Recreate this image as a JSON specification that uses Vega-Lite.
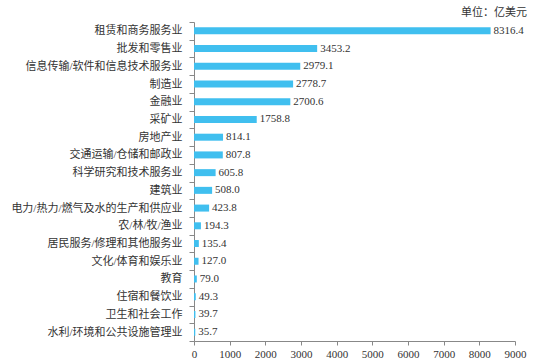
{
  "$schema": "https://vega.github.io/schema/vega-lite/v6.json",
  "autosize": "none",
  "width": 321,
  "height": 319,
  "padding": {"left": 194, "top": 22, "right": 19, "bottom": 20},
  "background": "white",
  "title": {
    "text": "单位：亿美元",
    "anchor": "end",
    "orient": "top",
    "frame": "group",
    "font": "Liberation Serif, Noto Sans CJK SC",
    "fontSize": 11,
    "fontWeight": "normal",
    "color": "#333333",
    "dx": 12,
    "dy": 7,
    "offset": 5
  },
  "data": {
    "values": [
      {"industry": "租赁和商务服务业", "value": 8316.4},
      {"industry": "批发和零售业", "value": 3453.2},
      {"industry": "信息传输/软件和信息技术服务业", "value": 2979.1},
      {"industry": "制造业", "value": 2778.7},
      {"industry": "金融业", "value": 2700.6},
      {"industry": "采矿业", "value": 1758.8},
      {"industry": "房地产业", "value": 814.1},
      {"industry": "交通运输/仓储和邮政业", "value": 807.8},
      {"industry": "科学研究和技术服务业", "value": 605.8},
      {"industry": "建筑业", "value": 508.0},
      {"industry": "电力/热力/燃气及水的生产和供应业", "value": 423.8},
      {"industry": "农/林/牧/渔业", "value": 194.3},
      {"industry": "居民服务/修理和其他服务业", "value": 135.4},
      {"industry": "文化/体育和娱乐业", "value": 127.0},
      {"industry": "教育", "value": 79.0},
      {"industry": "住宿和餐饮业", "value": 49.3},
      {"industry": "卫生和社会工作", "value": 39.7},
      {"industry": "水利/环境和公共设施管理业", "value": 35.7}
    ]
  },
  "encoding": {
    "y": {
      "field": "industry",
      "type": "nominal",
      "sort": null,
      "scale": {"paddingInner": 0, "paddingOuter": 0},
      "axis": {
        "title": null,
        "tickBand": "extent",
        "domainColor": "#888888",
        "tickColor": "#888888",
        "tickSize": 5,
        "labelPadding": 7,
        "labelFont": "Liberation Serif, Noto Sans CJK SC",
        "labelFontSize": 11,
        "labelColor": "#333333",
        "labelLimit": 300
      }
    },
    "x": {
      "field": "value",
      "type": "quantitative",
      "scale": {"domain": [0, 9000], "nice": false},
      "axis": {
        "title": null,
        "values": [0, 1000, 2000, 3000, 4000, 5000, 6000, 7000, 8000, 9000],
        "format": "d",
        "grid": false,
        "labelFlush": false,
        "labelOverlap": false,
        "domainColor": "#888888",
        "tickColor": "#888888",
        "tickSize": 4,
        "labelPadding": 3,
        "labelFont": "Liberation Serif",
        "labelFontSize": 11,
        "labelColor": "#333333"
      }
    }
  },
  "layer": [
    {
      "mark": {"type": "bar", "color": "#40BFEF", "size": 7}
    },
    {
      "mark": {
        "type": "text",
        "align": "left",
        "baseline": "middle",
        "dx": 3,
        "font": "Liberation Serif",
        "fontSize": 11,
        "color": "#333333"
      },
      "encoding": {
        "text": {"field": "value", "type": "quantitative", "format": ".1f"}
      }
    }
  ],
  "config": {"view": {"stroke": null}}
}
